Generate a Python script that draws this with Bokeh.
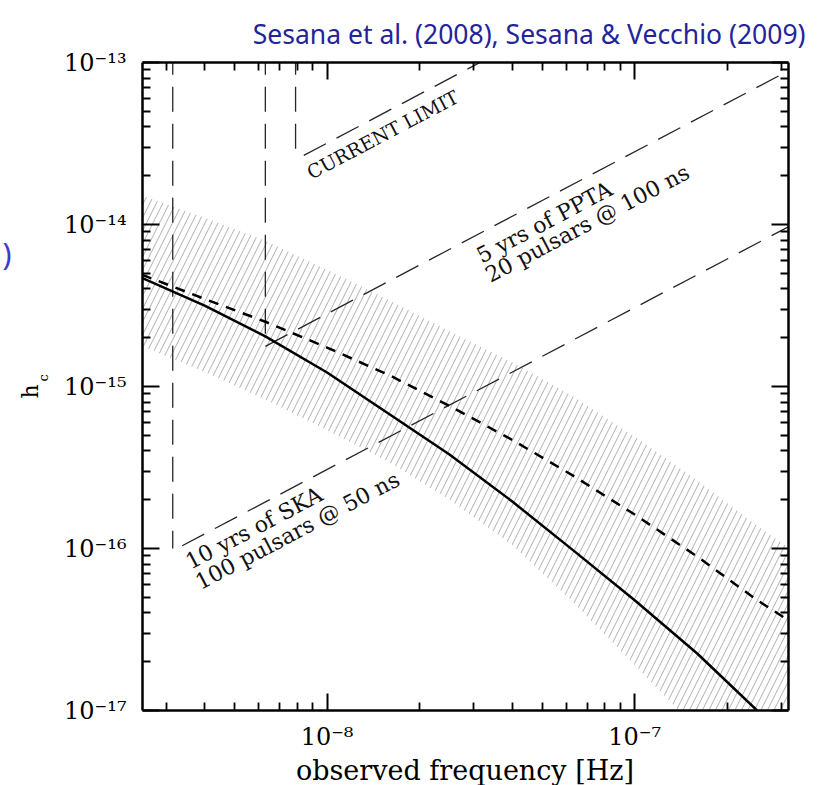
import math

from bokeh.core.properties import value
from bokeh.embed import file_html
from bokeh.models import CustomJSTickFormatter, FixedTicker, Label, LogAxis, Range1d
from bokeh.plotting import figure
from bokeh.resources import INLINE

# ---------------------------------------------------------------- data
# observed frequency grid [Hz] for the background curves
freq = [2.5e-9, 4.0e-9, 6.3e-9, 1.0e-8, 1.6e-8, 2.5e-8, 4.0e-8, 6.3e-8,
        1.0e-7, 1.6e-7, 2.5e-7, 3.2e-7]
# characteristic strain of the MBHB background, solid curve
hc_solid = [4.68e-15, 3.16e-15, 2.04e-15, 1.22e-15, 6.71e-16, 3.80e-16,
            1.95e-16, 9.77e-17, 4.79e-17, 2.24e-17, 1.0e-17, 6.6e-18]
# characteristic strain, short-dashed curve
hc_dashed = [4.90e-15, 3.47e-15, 2.51e-15, 1.74e-15, 1.17e-15, 7.59e-16,
             4.68e-16, 2.82e-16, 1.62e-16, 8.9e-17, 4.8e-17, 3.55e-17]
# hatched uncertainty band
band_upper = [1.51e-14, 1.10e-14, 7.94e-15, 5.25e-15, 3.39e-15, 2.19e-15,
              1.41e-15, 8.71e-16, 4.90e-16, 2.63e-16, 1.38e-16, 1.0e-16]
band_lower = [1.78e-15, 1.23e-15, 8.32e-16, 5.37e-16, 3.39e-16, 2.0e-16,
              1.05e-16, 4.68e-17, 1.91e-17, 7.6e-18, 3.2e-18, 2.0e-18]

# PTA sensitivity curves: low-frequency cut-off and the rising branch
limit_cut_f = [7.9e-9, 7.9e-9]
limit_cut_h = [1.2e-13, 2.5e-14]
limit_f = [8.4e-9, 3.2e-8]
limit_h = [2.67e-14, 1.02e-13]

ppta_cut_f = [6.3e-9, 6.3e-9]
ppta_cut_h = [1.2e-13, 2.0e-15]
ppta_f = [6.3e-9, 3.2e-7]
ppta_h = [1.77e-15, 9.0e-14]

ska_cut_f = [3.15e-9, 3.15e-9]
ska_cut_h = [1.2e-13, 1.0e-16]
ska_f = [3.38e-9, 3.2e-7]
ska_h = [1.04e-16, 9.8e-15]

# axis ticks
x_major = [1e-8, 1e-7]
x_minor = [m * 1e-9 for m in range(3, 10)] + [m * 1e-8 for m in range(2, 10)] + [2e-7, 3e-7]
y_major = [1e-17, 1e-16, 1e-15, 1e-14, 1e-13]
y_minor = [m * 10.0 ** e for e in range(-17, -13) for m in range(2, 10)]

# ---------------------------------------------------------------- figure
W, H = 818, 785
LEFT, RIGHT, TOP, BOTTOM = 142, 30, 62, 75
x_lo, x_hi = 10 ** -8.6, 10 ** -6.5
y_lo, y_hi = 1e-17, 1e-13

frame_w = W - LEFT - RIGHT
frame_h = H - TOP - BOTTOM
px_dec_x = frame_w / math.log10(x_hi / x_lo)
px_dec_y = frame_h / math.log10(y_hi / y_lo)


def at_px(sx, sy):
    """Data coordinates of a canvas pixel (origin top-left), for margin text."""
    f = 10 ** (math.log10(x_lo) + (sx - LEFT) / px_dec_x)
    h = 10 ** (math.log10(y_hi) - (sy - TOP) / px_dec_y)
    return f, h


p = figure(
    width=W, height=H,
    x_axis_type="log", y_axis_type="log",
    x_range=Range1d(x_lo, x_hi), y_range=Range1d(y_lo, y_hi),
    output_backend="svg", toolbar_location=None,
    min_border_left=LEFT, min_border_right=RIGHT,
    min_border_top=TOP, min_border_bottom=BOTTOM,
)
p.outline_line_color = None
p.background_fill_color = "white"
p.border_fill_color = "white"
p.xgrid.visible = False
p.ygrid.visible = False

SERIF = "DejaVu Serif"
sup_code = r"""
const e = Math.round(Math.log10(tick));
const m = {"-": "\u207b", "0": "\u2070", "1": "\u00b9", "2": "\u00b2", "3": "\u00b3",
           "4": "\u2074", "5": "\u2075", "6": "\u2076", "7": "\u2077", "8": "\u2078", "9": "\u2079"};
return "10" + String(e).split("").map(c => m[c]).join("");
"""

# heading
p.title.text = "Sesana et al. (2008), Sesana & Vecchio (2009)"
p.title.text_font = "Noto Sans"
p.title.text_font_size = "26.5px"
p.title.text_font_style = "normal"
p.title.text_color = "#24249a"
p.title.align = "right"
p.title.offset = -17
p.title.standoff = 21

p.add_layout(LogAxis(), "above")
p.add_layout(LogAxis(), "right")

for ax in p.below + p.above:
    ax.ticker = FixedTicker(ticks=x_major, minor_ticks=x_minor)
for ax in p.left + p.right:
    ax.ticker = FixedTicker(ticks=y_major, minor_ticks=y_minor)

for ax in p.below + p.above + p.left + p.right:
    ax.formatter = CustomJSTickFormatter(code=sup_code)
    ax.axis_line_width = 2.5
    ax.axis_line_color = "black"
    ax.major_tick_in = 17
    ax.major_tick_out = 0
    ax.minor_tick_in = 8
    ax.minor_tick_out = 0
    ax.major_tick_line_width = 2
    ax.minor_tick_line_width = 1.8
    ax.major_tick_line_color = "black"
    ax.minor_tick_line_color = "black"
    ax.major_label_text_font = SERIF
    ax.major_label_text_font_size = "24px"
    ax.major_label_text_color = "black"

# frame edges on top and right carry ticks only
for ax in p.above + p.right:
    ax.formatter = CustomJSTickFormatter(code="return '';")
    ax.major_label_text_font_size = "1px"
    ax.major_label_standoff = 0

p.below[0].major_label_standoff = 12
p.left[0].major_label_standoff = 16


def margin_text(side, sx, sy, **kw):
    """Text in a side panel, centred vertically on canvas pixel (sx, sy)."""
    fx, hy = at_px(sx, sy)
    opts = dict(x=fx, y=hy, text_color="black", text_align="left",
                text_baseline="middle")
    opts.update(kw)
    p.add_layout(Label(**opts), side)


margin_text("below", 464.5, 770, text="observed frequency [Hz]",
            text_font=SERIF, text_font_size="27px", text_align="center")
# y axis label h_c, with the c set as a subscript
margin_text("left", 29.5, 398, text="h", angle=math.pi / 2,
            text_font=SERIF, text_font_size="22px")
margin_text("left", 42.5, 381, text="c", angle=math.pi / 2,
            text_font=SERIF, text_font_size="13px")
# stray bracket at the left margin
margin_text("left", 2, 253, text=")", text_font="Noto Sans",
            text_font_size="30px", text_color="#3a3ad2")

# ---------------------------------------------------------------- marks
p.varea(x=freq, y1=band_lower, y2=band_upper, fill_color=None, fill_alpha=0,
        hatch_pattern="/", hatch_color="#9a9a9a", hatch_weight=0.8, hatch_scale=13)

SENS = dict(line_color="#262626", line_width=1.3, line_dash="25 12")
for fx, hy in [(limit_cut_f, limit_cut_h), (limit_f, limit_h),
               (ppta_cut_f, ppta_cut_h), (ppta_f, ppta_h),
               (ska_cut_f, ska_cut_h), (ska_f, ska_h)]:
    p.line(fx, hy, **SENS)

p.line(freq, hc_dashed, line_color="black", line_width=2.5, line_dash="10 8")
p.line(freq, hc_solid, line_color="black", line_width=2.5)

# text along the sensitivity curves (h_c ~ f, so the slope is fixed on screen)
tilt = math.atan(px_dec_y / px_dec_x)

curve_labels = [
    ("CURRENT LIMIT", 8.69e-9, 2.06e-14, "19px"),
    ("5 yrs of PPTA", 3.10e-8, 6.28e-15, "22px"),
    ("20 pulsars @ 100 ns", 3.31e-8, 4.78e-15, "22px"),
    ("10 yrs of SKA", 3.51e-9, 8.11e-17, "22px"),
    ("100 pulsars @ 50 ns", 3.78e-9, 6.08e-17, "22px"),
]
for txt, fx, hy, size in curve_labels:
    p.text(x=[fx], y=[hy], text=[txt], angle=tilt,
           text_font=value(SERIF), text_font_size=size, text_color="#111111",
           text_align="left", text_baseline="alphabetic")

with open("out.html", "w", encoding="utf-8") as fh:
    fh.write(file_html(p, INLINE))
